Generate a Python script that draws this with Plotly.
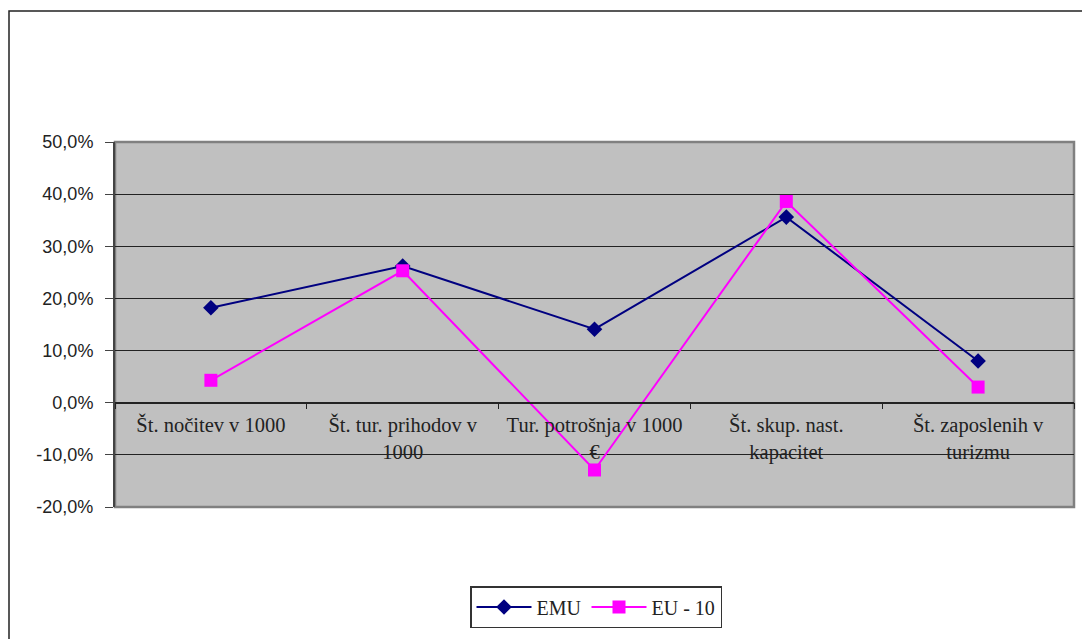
import plotly.graph_objects as go

categories = ["Št. nočitev v 1000", "Št. tur. prihodov v<br>1000", "Tur. potrošnja v 1000<br>€",
              "Št. skup. nast.<br>kapacitet", "Št. zaposlenih v<br>turizmu"]
emu = [18.2, 26.2, 14.1, 35.6, 8.0]
eu10 = [4.3, 25.3, -12.9, 38.6, 3.0]
y_tickvals = [50, 40, 30, 20, 10, 0, -10, -20]
y_ticktext = ["50,0%", "40,0%", "30,0%", "20,0%", "10,0%", "0,0%", "-10,0%", "-20,0%"]

# page body has an 8px margin; figure coordinates = page - 8
W, H = 1090, 639
L, T = 107, 134
plot_r, plot_b = 1066, 499
R, B = W - plot_r, H - plot_b
pw, ph = plot_r - L, plot_b - T
ymin, ymax = -20, 50

SERIF = "Times New Roman, Liberation Serif, serif"
SANS = "Arial, Liberation Sans, sans-serif"

fig = go.Figure()
fig.add_trace(go.Scatter(x=categories, y=emu, name="EMU", mode="lines+markers",
                         line=dict(color="#000080", width=2),
                         marker=dict(symbol="diamond", size=12, color="#000080")))
fig.add_trace(go.Scatter(x=categories, y=eu10, name="EU - 10", mode="lines+markers",
                         line=dict(color="#FF00FF", width=2),
                         marker=dict(symbol="square", size=13, color="#FF00FF")))

zero_pos = (0 - ymin) / (ymax - ymin)

fig.update_layout(
    width=W, height=H,
    margin=dict(l=L, r=R, t=T, b=B),
    paper_bgcolor="white", plot_bgcolor="#C0C0C0",
    font=dict(family=SERIF, size=18, color="#222222"),
    showlegend=True,
    legend=dict(orientation="h", x=(588 - L) / pw, xanchor="center",
                y=-(599 - plot_b) / ph, yanchor="middle",
                bordercolor="#333333", borderwidth=1.5, bgcolor="white",
                font=dict(family=SERIF, size=20, color="#222222"),
                itemwidth=55),
    xaxis=dict(type="category", anchor="free", position=zero_pos,
               showline=True, linecolor="#222222", linewidth=1.5,
               ticks="outside", tickson="boundaries", ticklen=6, tickcolor="#222222",
               ticklabelstandoff=4,
               showgrid=False, range=[-0.5, 4.5],
               tickfont=dict(family=SERIF, size=20.5, color="#222222")),
    yaxis=dict(range=[ymin, ymax], tickvals=y_tickvals, ticktext=y_ticktext,
               showline=True, linecolor="#444444", linewidth=2,
               ticks="outside", ticklen=8, tickcolor="#444444",
               ticklabelstandoff=8,
               showgrid=True, gridcolor="#222222", gridwidth=1.2,
               zeroline=False,
               tickfont=dict(family=SANS, size=18, color="#222222")),
    shapes=[
        dict(type="rect", xref="x domain", yref="y domain", x0=0, x1=1, y0=0, y1=1,
             line=dict(color="#808080", width=2.5), layer="below"),
        dict(type="rect", xref="paper", yref="paper",
             x0=(1 - L) / pw, x1=(W + 5 - L) / pw,
             y0=-(H + 5 - plot_b) / ph, y1=1 + (T - 3) / ph,
             line=dict(color="#222222", width=1.5)),
    ],
)

fig.write_html("out.html")
